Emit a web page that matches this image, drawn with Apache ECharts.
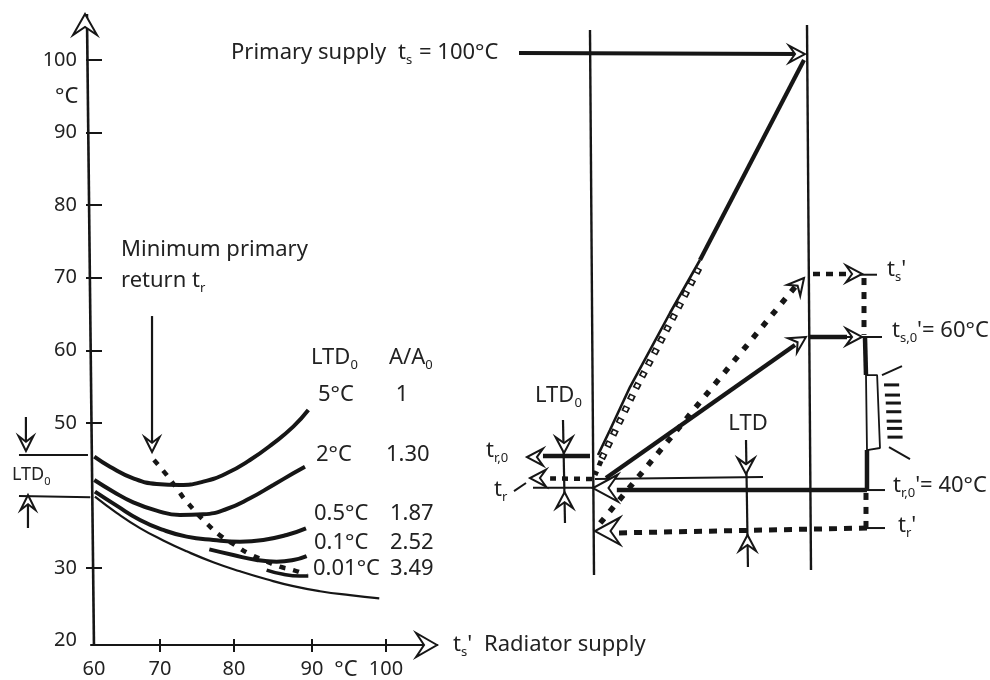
<!DOCTYPE html>
<html><head><meta charset="utf-8">
<style>html,body{margin:0;padding:0;background:#fff}#c{width:990px;height:680px}</style>
<script src="https://cdn.jsdelivr.net/npm/echarts@6/dist/echarts.min.js"></script>
</head><body><div id="c"></div>
<script>
// ---- left chart: radiator supply (x) against minimum primary return (y), degC
const xTickValues = [60, 69.04, 79.18, 89.86, 100];
const yTickValues = [100, 90, 80, 70, 60, 50, 30, 20];
const curveLtd5 = [[60.04,45.34],[62.19,43.96],[65.38,42.36],[68.58,41.58],[71.78,41.44],[74.97,41.9],[78.17,43.05],[81.37,44.88],[84.56,47.18],[87.3,49.48],[89.36,51.77]];
const curveLtd2 = [[60.04,42.13],[62.65,40.52],[65.38,39.05],[68.58,37.9],[71.78,37.3],[74.97,37.4],[78.17,38.13],[81.37,39.6],[84.56,41.44],[87.3,43.05],[88.9,43.96]];
const curveLtd05 = [[60.13,40.52],[63.1,38.59],[66.3,36.62],[69.49,35.24],[72.69,34.32],[76.34,33.86],[80,33.63],[83.19,33.86],[86.39,34.55],[89.04,35.47]];
const curveLtd01 = [[75.8,32.57],[79.08,31.79],[82.28,31.1],[85.02,30.87],[87.3,31.1],[89.13,31.65]];
const curveLtd001 = [[83.65,29.72],[85.93,29.13],[88.22,28.9],[89.36,28.9]];
const curveLimit = [[60.13,39.83],[63.1,37.6],[66.3,35.5],[69.49,33.8],[72.69,32.3],[76.34,30.8],[80,29.55],[83.65,28.45],[87.3,27.5],[90.96,26.8],[95.07,26.25],[99.08,25.82]];
const curveMinReturn = [[68.22,44.88],[69.95,42.82],[71.32,40.98],[72.69,39.14],[75.66,35.93],[77.48,34.32],[79.31,33.17],[81.14,32.02],[83.19,31.1],[85.48,30.18],[87.3,29.72],[89.13,29.04]];
const leftAxisStroke = [[59.04,106.34],[60,19.39]];
const minReturnPointer = [[67.95,64.72],[67.95,47]];
const leftLtdUpper = [[49.73,45.57],[59.18,45.57]];
const leftLtdLower = [[49.73,39.92],[59.5,39.75]];
const leftLtdDown = [[50.68,50.81],[50.68,47]];
const leftLtdUp = [[50.96,35.51],[50.96,39]];
const leftArrows = [[58.77,106.34,-90],[107,19.39,0],[67.95,45.98,90],[50.68,46.12,90],[50.96,40.06,-90]];

// ---- right diagram: heat exchanger position (x, 0..100) against temperature (y), degC
const wallLeft = [[-0.93,103.45],[0.93,28.28]];
const wallRight = [[99.54,104.14],[101.39,28.97]];
const primarySupply = [[-33.8,100.28],[96.3,100.14]];
const primaryFallThick = [[98.15,99.31],[50,71.73]];
const primaryFallThin = [[50,71.73],[36.11,64.42],[26.85,59.31],[17.59,54.21],[8.33,48.28],[2.78,44.83]];
const primaryFallDash = [[49.54,70.62],[38.89,64.55],[29.63,59.31],[20.37,54.07],[12.04,48.97],[4.17,44.14]];
const primaryFallEnd = [[4.17,44],[1.39,42.07]];
const radiatorRise = [[93.98,60],[6.48,41.66]];
const radiatorRiseDash = [[93.98,68],[2.31,34.9]];
const tsPrimeDash = [[102.31,69.8],[119.44,69.8]];
const tsPrimeThin = [[124,69.7],[131.94,69.7]];
const ts0Thick = [[100.93,61.11],[118.06,61.11]];
const ts0Thin = [[118.06,61.11],[134.26,61.11]];
const riserDash = [[125.93,69.24],[125.93,61.4]];
const riserThick = [[126.39,60.97],[126.85,55.86]];
const returnThick = [[127.31,45.52],[127.31,40]];
const radiatorBody = [[126.85,55.86],[132,55.86],[133.33,45.8],[127.31,45.52],[126.85,55.86]];
const tr0PrimeThick = [[11.5,40],[127.31,40]];
const tr0PrimeThin = [[127.31,40],[135.65,40]];
const returnDash = [[126.85,39.6],[126.85,34.76]];
const trPrimeDash = [[127.31,34.76],[9.5,34.07]];
const trPrimeThin = [[127.31,34.76],[135.65,34.76]];
const tr0Thick = [[-0.93,44.69],[-22.7,44.69]];
const trDash = [[0,41.52],[-19.4,41.6]];
const ltdTop = [[1.39,41.52],[79.17,41.79]];
const ltdBase = [[-27.31,40.3],[0.5,40.3]];
const trTick = [[-36.11,39.86],[-30.56,40.97]];
const ltd0Stem = [[-13.43,49.66],[-12.5,35.45]];
const ltdStem = [[71.3,46.9],[72.2,29.38]];
const radiatorFinTop = [[134.26,55.86],[143.52,57.1]];
const radiatorFinBottom = [[137.5,45.93],[147.22,44.28]];
const radiatorHatch = [
  [[135.2,54.5],[142.2,54.5]],[[135.6,53.1],[142.6,53.1]],[[136,52],[143,52]],[[136.2,50.8],[143.2,50.8]],
  [[136.4,49.5],[143.4,49.5]],[[136.6,48.5],[143.6,48.5]],[[136.8,47.3],[143.8,47.3]]
];
const rightArrows = [[98.61,100.14,0],[98.15,69.24,-50],[99.07,61.11,-32],[125,69.8,0],[125,61.11,0],[-30.1,44.55,180],[-28.7,41.66,180],
  [-12.96,45.11,90],[-12.7,39.7,-90],[71.3,42.2,90],[72,33.8,-90]];
const bigArrows = [[0.46,40.28,180],[1.39,34.35,180]];

const ink = '#161616', paper = '#ffffff', font = '"Noto Sans", sans-serif', textInk = '#222222';
const mainSize = 22, tickSize = 20;
const yIndexFor = { 0:0, 1:2, 3:3 };

function lineSeries(data, xi, width, dash, smooth, color, dashOffset) {
  return { type:'line', data, xAxisIndex:xi, yAxisIndex:yIndexFor[xi], clip:false, silent:true,
    showSymbol:false, symbol:'none', smooth: smooth ? 0.5 : false, z: color ? 4 : 3,
    lineStyle:{ color: color || ink, width, type: dash || 'solid', cap:'butt', dashOffset: dashOffset || 0 } };
}
function arrowSeries(data, xi, len, wide, z) {
  return { type:'custom', data, xAxisIndex:xi, yAxisIndex:yIndexFor[xi], silent:true, z: z||6, encode:{x:0,y:1},
    renderItem(params, api) {
      const tip = api.coord([api.value(0), api.value(1)]);
      const a = api.value(2) * Math.PI / 180, c = Math.cos(a), s = Math.sin(a);
      const pt = (u, v) => [tip[0] + u*c - v*s, tip[1] + u*s + v*c];
      return { type:'polygon', shape:{ points:[pt(0,0), pt(-len,-wide/2), pt(-len*0.62,0), pt(-len,wide/2)] },
        style:{ fill:paper, stroke:ink, lineWidth:2 } };
    } };
}
const series = [
  lineSeries(leftAxisStroke,3,2.6),
  lineSeries(curveLimit,0,2.2,null,true),
  lineSeries(curveLtd05,0,4,null,true),
  lineSeries(curveLtd5,0,4,null,true),
  lineSeries(curveLtd2,0,4,null,true),
  lineSeries(curveLtd01,0,4,null,true),
  lineSeries(curveLtd001,0,3.5,null,true),
  lineSeries(curveMinReturn,0,4.5,[6,8],true),
  lineSeries(minReturnPointer,0,2.2),
  lineSeries(leftLtdUpper,3,2),
  lineSeries(leftLtdLower,3,2),
  lineSeries(leftLtdDown,3,2.2),
  lineSeries(leftLtdUp,3,2.2),
  arrowSeries(leftArrows.slice(0,2),0,21,24),
  arrowSeries(leftArrows.slice(2),0,15,15),
  lineSeries(wallLeft,1,2.4),
  lineSeries(wallRight,1,2.4),
  lineSeries(primarySupply,1,3.8),
  lineSeries(primaryFallThick,1,4.2),
  lineSeries(primaryFallThin,1,2.6,null,false),
  lineSeries(primaryFallDash,1,7,[6,7]),
  lineSeries(primaryFallDash,1,3.5,[3,10],false,paper,-1.5),
  lineSeries(primaryFallEnd,1,5,[5,6]),
  lineSeries(radiatorRise,1,4.4),
  lineSeries(radiatorRiseDash,1,5.5,[6,9]),
  lineSeries(tsPrimeDash,1,4.5,[7,6]),
  lineSeries(tsPrimeThin,1,2),
  lineSeries(ts0Thick,1,4.5),
  lineSeries(ts0Thin,1,2),
  lineSeries(riserDash,1,5,[7,7]),
  lineSeries(riserThick,1,4.5),
  lineSeries(returnThick,1,4.5),
  lineSeries(radiatorBody,1,1.8),
  lineSeries(tr0PrimeThick,1,4.4),
  lineSeries(tr0PrimeThin,1,2),
  lineSeries(returnDash,1,5,[7,7]),
  lineSeries(trPrimeDash,1,5,[8,7]),
  lineSeries(trPrimeThin,1,2),
  lineSeries(tr0Thick,1,4.5),
  lineSeries(trDash,1,4.5,[6,6]),
  lineSeries(ltdTop,1,2),
  lineSeries(ltdBase,1,2),
  lineSeries(trTick,1,2),
  lineSeries(ltd0Stem,1,2.2),
  lineSeries(ltdStem,1,2.2),
  lineSeries(radiatorFinTop,1,2),
  lineSeries(radiatorFinBottom,1,2),
  ...radiatorHatch.map(h => lineSeries(h,1,3)),
  arrowSeries(rightArrows,1,16,17),
  arrowSeries(bigArrows,1,25,27,5)
];

// ---- annotation text
const rich = (base, sub) => ({
  t:{ fontSize:base, fontFamily:font, fill:textInk, lineHeight:base+6 },
  s:{ fontSize:sub, fontFamily:font, fill:textInk, lineHeight:sub, verticalAlign:'bottom', padding:[7,0,0,0] }
});
const notes = [
  ['{t|Primary supply}',231,53,'left'],
  ['{t|t}{s|s}',398,53,'left'],
  ['{t|= 100°C}',419,53,'left'],
  ['{t|°C}',55,97,'left'],
  ['{t|Minimum primary}',121,250,'left'],
  ['{t|return t}{s|r}',121,281,'left'],
  ['{t|LTD}{s|0}',311,358,'left'],
  ['{t|A/A}{s|0}',389,358,'left'],
  ['{t|5°C}',318,395,'left'],['{t|1}',402,395,'center'],
  ['{t|2°C}',316,455,'left'],['{t|1.30}',386,455,'left'],
  ['{t|0.5°C}',314,514,'left'],['{t|1.87}',390,514,'left'],
  ['{t|0.1°C}',314,543,'left'],['{t|2.52}',390,543,'left'],
  ['{t|0.01°C}',313,569,'left'],['{t|3.49}',390,569,'left'],
  ['{t|°C}',346,670,'center'],
  ["{t|t}{s|s}{t|'}",453,645,'left'],
  ['{t|Radiator supply}',484,645,'left'],
  ['{t|LTD}{s|0}',535,396,'left'],
  ['{t|LTD}',748,424,'center'],
  ['{t|t}{s|r,0}',486,451,'left'],
  ['{t|t}{s|r}',494,490,'left'],
  ["{t|t}{s|s}{t|'}",887,270,'left'],
  ["{t|t}{s|s,0}{t|'= 60°C}",892,331,'left'],
  ["{t|t}{s|r,0}{t|'= 40°C}",893,486,'left'],
  ["{t|t}{s|r}{t|'}",898,526,'left']
];
const smallNotes = [['{t|LTD}{s|0}',12,475,'left']];
const textEl = (size, sub) => ([text,x,y,align]) => ({ type:'text', x, y, silent:true, z:10,
  style:{ text, rich:rich(size,sub), align, verticalAlign:'middle', fontFamily:font, fontSize:size, fill:textInk } });

const tickLabel = { fontSize:tickSize, fontFamily:font, color:textInk };
const hiddenAxis = { show:false, splitLine:{show:false} };
const option = {
  animation:false, backgroundColor:paper,
  grid:[
    { left:91, top:14, width:346, height:631 },
    { left:440, top:0, width:550, height:680 },
    { left:0, top:14, width:437, height:631 }
  ],
  xAxis:[
    { type:'value', gridIndex:0, min:59.59, max:106.99, position:'bottom', splitLine:{show:false},
      axisLine:{ show:true, onZero:false, lineStyle:{color:ink,width:2.2} },
      axisTick:{ show:true, length:7, customValues:xTickValues.slice(1), lineStyle:{color:ink,width:2} },
      axisLabel:{ ...tickLabel, margin:14, customValues:xTickValues, formatter:v => String(Math.round(v/10)*10), hideOverlap:false, showMinLabel:true, showMaxLabel:true } },
    { ...hiddenAxis, type:'value', gridIndex:1, min:-70.37, max:184.26 },
    { type:'value', gridIndex:0, min:59.59, max:106.99, position:'bottom', splitLine:{show:false},
      axisLine:{show:false}, axisLabel:{show:false},
      axisTick:{ show:true, inside:true, length:6, customValues:xTickValues.slice(1), lineStyle:{color:ink,width:2} } },
    { ...hiddenAxis, type:'value', gridIndex:2, min:47.13, max:106.99 }
  ],
  yAxis:[
    { type:'value', gridIndex:0, min:19.39, max:106.34, position:'left', splitLine:{show:false},
      axisLine:{show:false},
      axisTick:{ show:true, length:5, customValues:yTickValues.slice(0,-1), lineStyle:{color:ink,width:2} },
      axisLabel:{ ...tickLabel, margin:14, customValues:yTickValues, hideOverlap:false } },
    { type:'value', gridIndex:0, min:19.39, max:106.34, position:'left', splitLine:{show:false},
      axisLine:{show:false}, axisLabel:{show:false},
      axisTick:{ show:true, inside:true, length:11, customValues:yTickValues.slice(0,-1), lineStyle:{color:ink,width:2} } },
    { ...hiddenAxis, type:'value', gridIndex:1, min:13.8, max:107.59 },
    { ...hiddenAxis, type:'value', gridIndex:2, min:19.39, max:106.34 }
  ],
  series,
  graphic:[ ...notes.map(textEl(mainSize,13)), ...smallNotes.map(textEl(18,11)) ]
};
const chart = echarts.init(document.getElementById('c'), null, { renderer:'canvas' });
chart.setOption(option);
</script></body></html>
